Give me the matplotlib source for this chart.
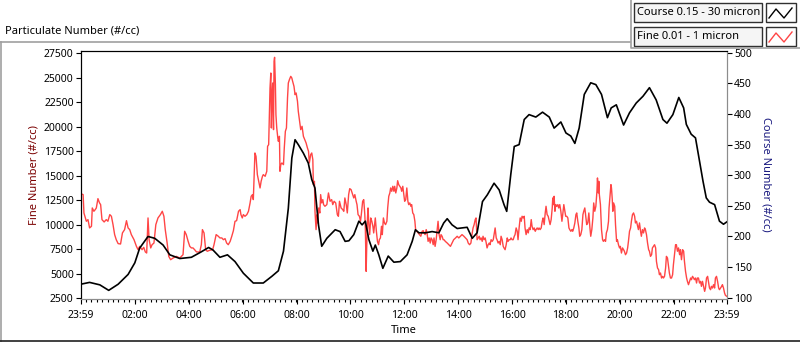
import numpy as np
import matplotlib
matplotlib.use("Agg")
import matplotlib.pyplot as plt
from matplotlib.patches import Rectangle
from matplotlib.ticker import FixedLocator

plt.rcParams['font.family'] = ['Noto Sans', 'DejaVu Sans']

# coarse particles (right axis), hours after 23:59
coarse_hours = [0.00, 0.33, 0.71, 1.04, 1.39, 1.76, 2.01, 2.19, 2.50, 2.75, 3.06, 3.31, 3.68, 4.11,
                4.48, 4.75, 4.91, 5.17, 5.45, 5.73, 6.04, 6.41, 6.78, 7.10, 7.34, 7.53, 7.71, 7.84,
                7.96, 8.08, 8.27, 8.45, 8.58, 8.70, 8.83, 8.95, 9.14, 9.45, 9.63, 9.82, 9.96, 10.14,
                10.33, 10.45, 10.57, 10.70, 10.85, 10.94, 11.07, 11.22, 11.42, 11.63, 11.87, 12.12,
                12.31, 12.43, 12.56, 12.80, 13.05, 13.30, 13.48, 13.61, 13.79, 13.98, 14.35, 14.54,
                14.72, 14.92, 15.10, 15.35, 15.54, 15.72, 15.82, 15.97, 16.10, 16.28, 16.47, 16.65,
                16.90, 17.15, 17.40, 17.58, 17.83, 18.02, 18.20, 18.35, 18.51, 18.70, 18.94, 19.13,
                19.34, 19.56, 19.70, 19.89, 20.16, 20.38, 20.63, 20.88, 21.12, 21.37, 21.62, 21.77,
                21.99, 22.21, 22.39, 22.49, 22.67, 22.83, 22.98, 23.11, 23.23, 23.35, 23.54, 23.72,
                23.87, 24.00]
coarse_counts = [122, 125, 121, 112, 122, 138, 157, 181, 200, 197, 186, 170, 164, 166,
                 175, 182, 178, 166, 170, 159, 140, 124, 124, 135, 144, 176, 246, 328,
                 358, 350, 336, 320, 293, 279, 219, 184, 197, 211, 208, 192, 193, 203,
                 225, 219, 225, 195, 176, 186, 170, 148, 168, 158, 159, 170,
                 192, 211, 206, 206, 208, 206, 222, 229, 219, 213, 215, 197,
                 206, 257, 268, 287, 276, 252, 241, 301, 347, 350, 391, 399,
                 395, 403, 395, 377, 387, 369, 364, 352, 377, 432, 451, 448,
                 432, 394, 410, 415, 382, 402, 418, 429, 443, 423, 391, 385,
                 399, 427, 410, 383, 367, 361, 323, 290, 263, 256, 252, 225,
                 220, 224]

# fine particles (left axis)
fine_hours_a = [0.00, 0.09, 0.12, 0.21, 0.27, 0.33, 0.40, 0.43, 0.49, 0.54, 0.58, 0.64, 0.70, 0.74,
                0.79, 0.87, 0.95, 1.01, 1.08, 1.14, 1.20, 1.26, 1.32, 1.39, 1.48, 1.55, 1.63, 1.70,
                1.76, 1.82, 1.88, 1.98, 2.07, 2.13, 2.19, 2.28, 2.34, 2.40, 2.45, 2.50, 2.54, 2.60,
                2.65, 2.72, 2.79, 2.87, 2.96, 3.03, 3.09, 3.14, 3.21, 3.27, 3.34, 3.43, 3.55, 3.68,
                3.80, 3.86, 3.92, 3.99, 4.05, 4.11, 4.17, 4.23, 4.30, 4.42, 4.48, 4.52, 4.58, 4.64,
                4.70, 4.79]
fine_counts_a = [13180, 13080, 11210, 10360, 10530, 9680, 9850, 11720, 11380, 11550, 11720, 12670,
                 12230, 12060, 10530, 10290, 10530, 10360, 11040, 10870, 10020, 9000, 8480, 8080,
                 8040, 9170, 9510, 10420, 9680, 9510, 9000, 8480, 7800, 7460, 7800, 7460, 7700,
                 7230, 7120, 10700, 8480, 7640, 7970, 8140, 10020, 10700, 11040, 11380, 10870,
                 9510, 8140, 6780, 6440, 6610, 6780, 6610, 6950, 9340, 9000, 8310, 7800, 7640,
                 7640, 7460, 7230, 7230, 7970, 9510, 9170, 7460, 7300, 7400]

fine_hours_b = [4.90, 4.95, 5.03, 5.11, 5.17, 5.24, 5.30, 5.36, 5.42, 5.48, 5.55, 5.61, 5.67, 5.73,
                5.79, 5.86, 5.92, 5.95, 6.00, 6.04, 6.10, 6.17, 6.23, 6.29, 6.33, 6.38, 6.41, 6.44,
                6.47, 6.51, 6.56, 6.61, 6.66, 6.70, 6.75, 6.78, 6.85, 6.91, 6.94, 6.98, 7.01, 7.03,
                7.06, 7.08, 7.11, 7.13, 7.16, 7.18, 7.20, 7.23, 7.25, 7.28, 7.32, 7.34, 7.38, 7.40,
                7.43, 7.47, 7.53, 7.56, 7.60, 7.64, 7.68, 7.71, 7.75, 7.80, 7.84, 7.87, 7.92, 7.96,
                8.00, 8.05, 8.08, 8.12, 8.17, 8.22, 8.27, 8.32, 8.37, 8.42, 8.46, 8.49, 8.54, 8.58,
                8.62, 8.64, 8.68, 8.70, 8.74, 8.78, 8.80, 8.84, 8.88, 8.91, 8.95, 8.99, 9.02, 9.07,
                9.14, 9.20, 9.26, 9.32, 9.36, 9.41, 9.47, 9.53, 9.57, 9.61, 9.67]
fine_counts_b = [7460, 7970, 9000, 8830, 8660, 8660, 8480, 8590, 8140, 7970, 8310, 8830, 9400, 10360,
                 10420, 11380, 11550, 11040, 10700, 11040, 10870, 11040, 11380, 12230, 12910, 13080,
                 12570, 14950, 17330, 16990, 15120, 14440, 13760, 14440, 14950, 15120, 14950, 15460,
                 18010, 18180, 21410, 23960, 25490, 19880, 23280, 24470, 19710, 26680, 27090, 24300,
                 21240, 19880, 18860, 18520, 19030, 15460, 16140, 16310, 16140, 17840, 19540, 19880,
                 22940, 24470, 24810, 25150, 24980, 24640, 24130, 23280, 23450, 22600, 21580, 20730,
                 19710, 20050, 19030, 18690, 18350, 17840, 17500, 16310, 17160, 17330, 16650, 14100,
                 14440, 11380, 9510, 11040, 10190, 11720, 11210, 13080, 12230, 12570, 12060, 11890,
                 12060, 13250, 12400, 12570, 12060, 12400, 12230, 11040, 10870, 12400, 11720]

fine_hours_c = [9.73, 9.77, 9.81, 9.86, 9.90, 9.95, 9.99, 10.04, 10.08, 10.14, 10.18, 10.23, 10.26,
                10.30, 10.35, 10.39, 10.42, 10.47, 10.51, 10.55, 10.57, 10.60, 10.62, 10.65, 10.67,
                10.70, 10.73, 10.77, 10.81, 10.85, 10.88, 10.92, 10.94, 10.98, 11.02, 11.06, 11.09,
                11.13, 11.17, 11.20, 11.24, 11.28, 11.32, 11.37, 11.40, 11.44, 11.48, 11.51, 11.55,
                11.59, 11.63, 11.66, 11.70, 11.74, 11.77, 11.81, 11.85, 11.89, 11.92, 11.96, 12.00,
                12.03, 12.07, 12.11, 12.15, 12.18, 12.22, 12.26, 12.29, 12.33, 12.37, 12.41, 12.44,
                12.48, 12.53, 12.58, 12.63, 12.68, 12.72, 12.75, 12.79, 12.83, 12.86, 12.90, 12.94,
                12.98, 13.01, 13.05, 13.09, 13.12, 13.16, 13.20, 13.24, 13.27, 13.31, 13.35, 13.38,
                13.42, 13.46, 13.49, 13.54, 13.61, 13.67, 13.73, 13.79, 13.85, 13.92, 13.98, 14.04,
                14.10, 14.16, 14.23, 14.29, 14.35, 14.39, 14.44, 14.49, 14.53, 14.57, 14.61]
fine_counts_c = [11550, 11380, 12740, 12060, 11210, 13080, 13690, 13590, 13250, 12740, 13080, 12400,
                 12060, 11040, 10870, 10360, 11040, 12400, 12570, 11040, 9680, 5250, 7640, 10700,
                 11720, 10020, 9000, 10700, 10360, 9850, 9170, 10190, 10700, 9340, 8310, 7970, 8480,
                 8660, 9850, 9000, 10700, 10190, 10020, 10360, 11720, 12910, 13250, 13760, 13420,
                 13930, 13420, 13930, 13250, 13760, 14500, 14100, 13930, 13760, 13420, 13930, 13080,
                 12400, 12570, 13760, 12400, 12060, 12230, 11890, 12060, 11210, 11040, 10360, 9400,
                 9340, 9170, 9000, 8830, 9340, 9400, 9170, 9000, 9510, 9170, 8310, 8660, 8140, 8660,
                 8480, 7970, 8660, 7800, 8480, 9510, 10360, 9000, 8480, 9000, 8830, 8480, 8480, 8310,
                 8140, 7970, 7800, 8140, 8480, 8660, 8830, 8660, 8830, 9000, 8830, 8660, 8480, 8140,
                 7970, 8140, 9000, 9680, 10020]

fine_hours_d = [14.65, 14.68, 14.72, 14.76, 14.80, 14.83, 14.87, 14.91, 14.94, 14.98, 15.02, 15.06,
                15.09, 15.13, 15.17, 15.20, 15.24, 15.28, 15.32, 15.35, 15.39, 15.43, 15.46, 15.50,
                15.54, 15.58, 15.61, 15.65, 15.69, 15.72, 15.76, 15.80, 15.84, 15.87, 15.91, 15.95,
                15.98, 16.02, 16.06, 16.10, 16.13, 16.17, 16.21, 16.24, 16.28, 16.32, 16.36, 16.39,
                16.43, 16.47, 16.50, 16.54, 16.58, 16.62, 16.65, 16.69, 16.73, 16.76, 16.80, 16.84,
                16.88, 16.91, 16.95, 16.99, 17.02, 17.06, 17.10, 17.14, 17.17, 17.21, 17.25, 17.28,
                17.32, 17.36, 17.40, 17.43, 17.47, 17.51, 17.53, 17.56, 17.58, 17.61, 17.64, 17.68,
                17.72, 17.75, 17.79, 17.83, 17.87, 17.90, 17.94, 17.98, 18.01, 18.05, 18.09, 18.13,
                18.16, 18.20, 18.24, 18.27, 18.31, 18.35, 18.39, 18.42, 18.46, 18.50, 18.53, 18.57,
                18.61, 18.65, 18.68, 18.72, 18.76, 18.79, 18.83, 18.87, 18.91, 18.94, 18.98, 19.02,
                19.05, 19.09, 19.13, 19.17, 19.19, 19.22, 19.24, 19.26, 19.30, 19.34, 19.38, 19.41,
                19.45, 19.49, 19.52, 19.56, 19.60]
fine_counts_d = [10530, 10700, 8480, 8660, 8830, 8480, 8660, 8310, 8830, 8480, 8660, 8140, 7640, 7970,
                 8140, 7970, 8480, 8310, 8480, 9000, 9680, 8660, 8480, 8140, 8310, 7970, 8830, 8480,
                 7800, 7640, 7460, 7970, 8660, 8310, 8480, 8480, 8660, 8480, 8480, 8830, 9000, 9680,
                 9340, 8480, 9680, 10700, 10360, 10870, 10700, 10870, 9680, 9000, 9510, 9170, 9680,
                 9510, 10530, 9850, 9510, 9680, 9340, 9510, 9680, 9510, 9680, 9510, 9680, 10360,
                 10700, 10020, 11210, 11890, 11040, 10870, 10360, 10020, 10530, 11720, 12740, 12060,
                 12910, 11380, 12060, 11890, 12060, 11720, 12060, 11380, 10360, 11040, 12060, 11380,
                 10870, 10870, 10700, 9680, 9510, 9340, 9510, 9340, 9680, 10190, 11040, 11210, 10360,
                 9680, 8830, 9000, 9510, 11040, 11380, 11720, 10700, 10020, 10190, 11210, 9680, 8830,
                 9510, 10700, 12230, 11380, 11890, 13420, 14780, 13250, 14440, 13080, 12060, 9510,
                 8480, 8310, 8480, 8310, 9170, 9510, 10360]

fine_hours_e = [19.62, 19.66, 19.69, 19.71, 19.74, 19.76, 19.79, 19.81, 19.83, 19.86, 19.90, 19.93,
                19.97, 20.01, 20.04, 20.08, 20.12, 20.16, 20.19, 20.23, 20.27, 20.31, 20.34, 20.38,
                20.42, 20.45, 20.49, 20.53, 20.57, 20.60, 20.64, 20.68, 20.71, 20.75, 20.79, 20.82,
                20.86, 20.90, 20.94, 20.97, 21.01, 21.05, 21.09, 21.12, 21.16, 21.20, 21.23, 21.27,
                21.31, 21.35, 21.38, 21.42, 21.46, 21.49, 21.53, 21.57, 21.61, 21.64, 21.68, 21.72,
                21.75, 21.79, 21.83, 21.86, 21.90, 21.94, 21.98, 22.01, 22.05, 22.09, 22.12, 22.16,
                22.20, 22.24, 22.27, 22.31, 22.35, 22.39, 22.42, 22.46, 22.50, 22.53, 22.57, 22.61,
                22.65, 22.68, 22.72, 22.76, 22.79, 22.83, 22.87, 22.90, 22.94, 22.98, 23.02, 23.05,
                23.09, 23.13, 23.17, 23.20, 23.24, 23.28, 23.31, 23.35, 23.39, 23.42, 23.46, 23.50,
                23.54, 23.57, 23.61, 23.65, 23.69, 23.72, 23.76, 23.80, 23.83, 23.87, 23.91, 23.94,
                23.99]
fine_counts_e = [11720, 13080, 14100, 13760, 12570, 11380, 12230, 12060, 11890, 10020, 8310, 8480,
                 7970, 7640, 7800, 7120, 7640, 7460, 7300, 6950, 7120, 7640, 8310, 9340, 9680, 10360,
                 11040, 11210, 10870, 10190, 10360, 9850, 9510, 10190, 9340, 8830, 9510, 9170, 9680,
                 9510, 9000, 8140, 7460, 7300, 6780, 6950, 7640, 7800, 7970, 7640, 6270, 5590, 5420,
                 4910, 5080, 4570, 4740, 4570, 4740, 5590, 6780, 6610, 5760, 5080, 4570, 4570, 4910,
                 5930, 6950, 7970, 7970, 7300, 7640, 6950, 7460, 6440, 7460, 7300, 6270, 5250, 4570,
                 4230, 3890, 4230, 4570, 4400, 4740, 4570, 4400, 4570, 4060, 4570, 4570, 4060, 4230,
                 3720, 4230, 3720, 3210, 3550, 4570, 4740, 4230, 3550, 3380, 3720, 3550, 3890, 3550,
                 4570, 4740, 4230, 3550, 3380, 3550, 3720, 3890, 3550, 3040, 2810, 2700]

fine_hours = fine_hours_a + fine_hours_b + fine_hours_c + fine_hours_d + fine_hours_e
fine_counts = fine_counts_a + fine_counts_b + fine_counts_c + fine_counts_d + fine_counts_e

tick_hours = [0, 2 + 1/60, 4 + 1/60, 6 + 1/60, 8 + 1/60, 10 + 1/60, 12 + 1/60, 14 + 1/60,
              16 + 1/60, 18 + 1/60, 20 + 1/60, 22 + 1/60, 24]
tick_labels = ['23:59', '02:00', '04:00', '06:00', '08:00', '10:00', '12:00', '14:00',
               '16:00', '18:00', '20:00', '22:00', '23:59']
fine_ticks = [2500, 5000, 7500, 10000, 12500, 15000, 17500, 20000, 22500, 25000, 27500]
coarse_ticks = [100, 150, 200, 250, 300, 350, 400, 450, 500]

W, H = 800, 342
fig = plt.figure(figsize=(W / 100, H / 100), dpi=100)

L, R, T, B = 80.7, 727.0, 51.0, 298.5
ax = fig.add_axes([L / W, 1 - B / H, (R - L) / W, (B - T) / H])
ax.plot(fine_hours, fine_counts, color='#ff4545', lw=1.0)
ax.set_xlim(0, 24)
ax.set_ylim(2480, 27735)
ax.set_yticks(fine_ticks)
ax.set_xticks(tick_hours)
ax.set_xticklabels(tick_labels)
ax.xaxis.set_minor_locator(FixedLocator(np.arange(0, 24.01, 0.2)))
ax.tick_params(axis='both', labelsize=7.5, length=3.5, width=0.8, pad=1.5)
ax.tick_params(axis='x', pad=4.5)
ax.tick_params(axis='x', which='minor', length=2.5, width=0.8)
ax.set_ylabel('Fine Number (#/cc)', color='#7a0000', fontsize=8, labelpad=3)
ax.set_xlabel('Time', fontsize=8, labelpad=3.5)
for s in ['left', 'top']:
    ax.spines[s].set_color('black')
for s in ['right', 'bottom']:
    ax.spines[s].set_color('#8c8c8c')

ax2 = ax.twinx()
ax2.plot(coarse_hours, coarse_counts, color='black', lw=1.2)
ax2.set_ylim(98.7, 502.9)
ax2.set_yticks(coarse_ticks)
ax2.tick_params(axis='y', labelsize=7.5, length=3.5, width=0.8, pad=1.5)
ax2.set_ylabel('Course Number (#/cc)', color='#1a1a80', fontsize=8, rotation=270, labelpad=14)
ax2.spines['right'].set_color('#8c8c8c')
ax2.spines['bottom'].set_color('#8c8c8c')

# outer frame and title
fig.add_artist(plt.Line2D([0, 630 / W], [1 - 42 / H] * 2, color='#a0a0a0', lw=1.2))
fig.add_artist(plt.Line2D([0.5 / W] * 2, [1 - 42 / H, 0], color='#a0a0a0', lw=1.2))
fig.add_artist(plt.Line2D([0, 1], [1 - 341 / H] * 2, color='#202020', lw=1.2))
fig.text(5 / W, 1 - 31 / H, 'Particulate Number (#/cc)', fontsize=8, va='center', ha='left')

# legend panel (pixel coordinates)
lg = fig.add_axes([630 / W, 1 - 49 / H, 170 / W, 49 / H])
lg.set_xlim(630, 800)
lg.set_ylim(49, 0)
lg.axis('off')
lg.plot([630.5, 630.5, 800], [0, 48, 48], color='#a0a0a0', lw=1.2, clip_on=False)
legend_names = ['Course 0.15 - 30 micron', 'Fine 0.01 - 1 micron']
legend_colors = ['black', '#ff4545']
for i, (name, c) in enumerate(zip(legend_names, legend_colors)):
    y0 = 3 + i * 24
    lg.add_patch(Rectangle((634, y0), 128, 19, facecolor='#f5f5f5', edgecolor='#303030', lw=1.0))
    lg.text(637, y0 + 9.5, name, fontsize=8, va='center', ha='left')
    lg.add_patch(Rectangle((766, y0), 30, 19, facecolor='white', edgecolor='#303030', lw=1.0))
    lg.plot([769, 776, 784, 792], [y0 + 15, y0 + 6, y0 + 15, y0 + 5], color=c, lw=1.0)

fig.savefig('out.png', dpi=100)
